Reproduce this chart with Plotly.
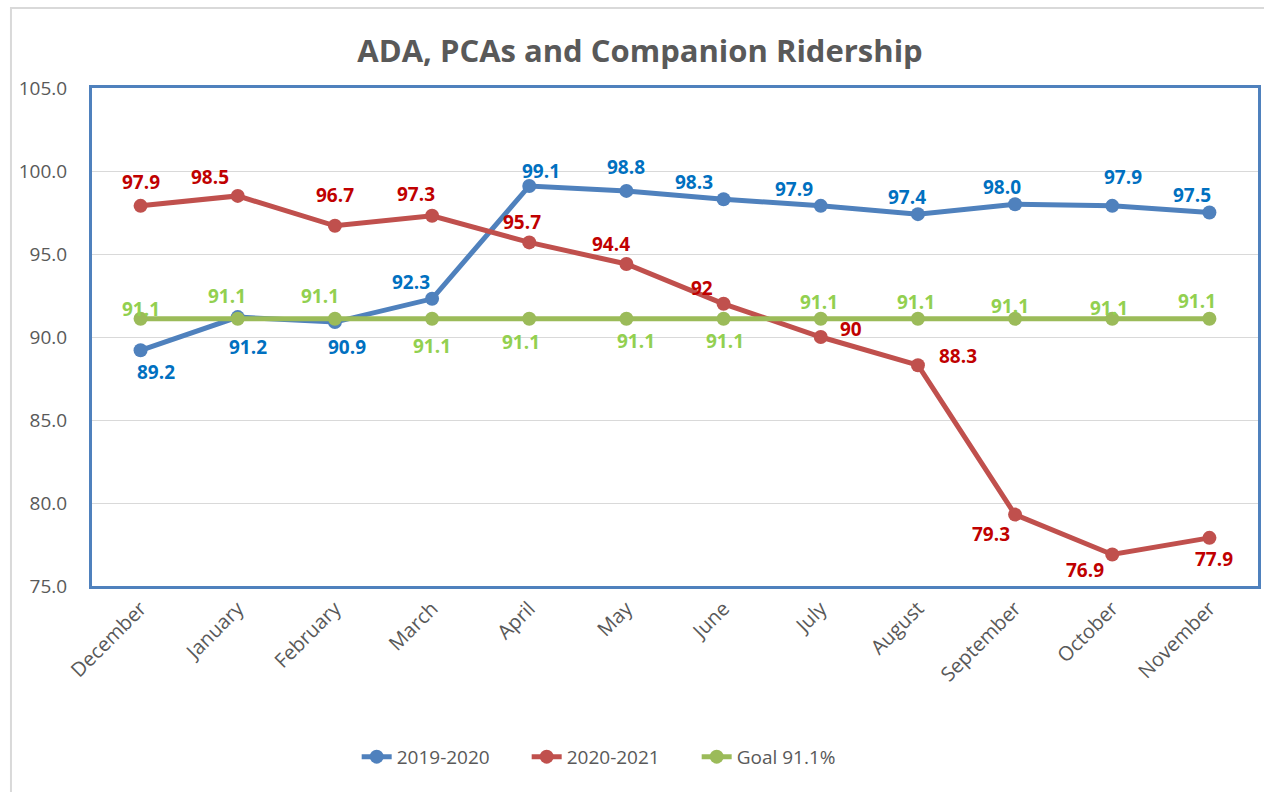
import plotly.graph_objects as go

months = ["December", "January", "February", "March", "April", "May", "June",
          "July", "August", "September", "October", "November"]
s2019 = [89.2, 91.2, 90.9, 92.3, 99.1, 98.8, 98.3, 97.9, 97.4, 98.0, 97.9, 97.5]
s2020 = [97.9, 98.5, 96.7, 97.3, 95.7, 94.4, 92, 90, 88.3, 79.3, 76.9, 77.9]
goal = [91.1] * 12
labels2019 = ["89.2", "91.2", "90.9", "92.3", "99.1", "98.8", "98.3", "97.9", "97.4", "98.0", "97.9", "97.5"]
labels2020 = ["97.9", "98.5", "96.7", "97.3", "95.7", "94.4", "92", "90", "88.3", "79.3", "76.9", "77.9"]
labelsGoal = ["91.1"] * 12

# label offsets in pixels (dx right, dy down) relative to each point -- styling only
off2019 = [(15, 22), (10, 30), (12, 25), (-21, -17), (12, -15), (0, -24),
           (-30, -17), (-27, -17), (-11, -17), (-13, -17), (11, -29), (-17, -18)]
off2020 = [(0, -24), (-28, -19), (0, -31), (-16, -22), (-7, -20), (-15, -20),
           (-22, -16), (30, -8), (40, -9), (-24, 19), (-27, 16), (5, 21)]
offGoal = [(0, -10), (-11, -23), (-15, -23), (0, 27), (-8, 23), (10, 22),
           (1, 22), (-2, -17), (-2, -17), (-5, -13), (-3, -11), (-12, -18)]

FONT = "Open Sans"
fig = go.Figure()

series = [
    ("2019-2020", s2019, labels2019, off2019, "#4F81BD", "#0070C0"),
    ("2020-2021", s2020, labels2020, off2020, "#C0504D", "#C00000"),
    ("Goal 91.1%", goal, labelsGoal, offGoal, "#9BBB59", "#92D050"),
]
for name, vals, labs, offs, lc, tc in series:
    fig.add_trace(go.Scatter(x=months, y=vals, name=name, mode="lines+markers",
                             line=dict(color=lc, width=5),
                             marker=dict(color=lc, size=14)))
    for m, v, t, (dx, dy) in zip(months, vals, labs, offs):
        fig.add_annotation(x=m, y=v, text=f"<b>{t}</b>", showarrow=False,
                           xshift=dx, yshift=-dy,
                           font=dict(family=FONT, size=19, color=tc))

fig.update_layout(
    width=1264, height=792,
    paper_bgcolor="white", plot_bgcolor="white",
    margin=dict(l=92, r=6, t=88, b=206, autoexpand=False),
    title=dict(text="<b>ADA, PCAs and Companion Ridership</b>", x=0.47, xref="paper",
               xanchor="center", y=0.935, yanchor="middle",
               font=dict(family=FONT, size=31, color="#595959")),
    legend=dict(orientation="h", x=0.227, xanchor="left", y=-0.343, yanchor="middle",
                font=dict(family=FONT, size=19, color="#595959"),
                entrywidth=125, entrywidthmode="pixels", tracegroupgap=0),
    xaxis=dict(range=[-0.5, 11.5], showgrid=False, showline=True, mirror=True,
               linecolor="#4F81BD", linewidth=3, tickangle=-45, ticks="",
               automargin=False,
               tickfont=dict(family=FONT, size=20, color="#595959")),
    yaxis=dict(range=[75, 105], dtick=5, tickformat=".1f", showgrid=True,
               gridcolor="#D9D9D9", gridwidth=1, showline=True, mirror=True,
               linecolor="#4F81BD", linewidth=3, ticks="", ticklabelstandoff=18,
               automargin=False,
               tickfont=dict(family=FONT, size=19, color="#595959"), zeroline=False),
    showlegend=True,
)
fig.add_shape(type="rect", xref="paper", yref="paper", x0=-0.0695, y0=-0.6, x1=1.1, y1=1.1606,
              line=dict(color="#D9D9D9", width=2), fillcolor="rgba(0,0,0,0)", layer="below")

fig.write_html("out.html", config={"displayModeBar": False},
               post_script="document.body.style.margin='0px';")
